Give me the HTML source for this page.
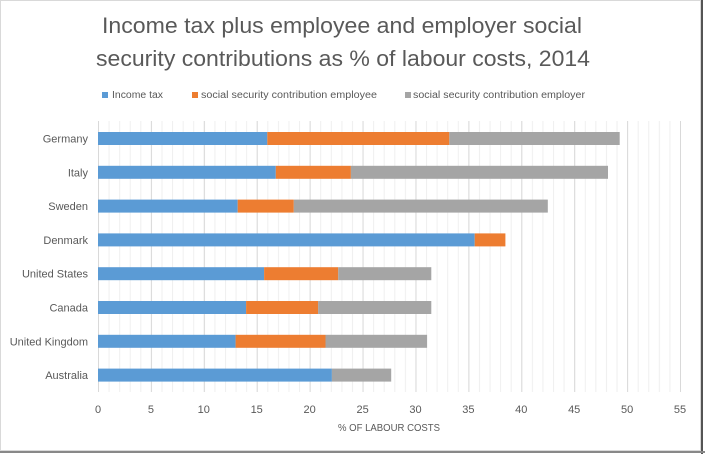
<!DOCTYPE html>
<html><head><meta charset="utf-8"><style>
html,body{margin:0;padding:0;background:#fff}
svg{display:block}
text{font-family:"Liberation Sans",sans-serif;fill:#595959}
</style></head><body>
<svg width="705" height="454" viewBox="0 0 705 454" xmlns="http://www.w3.org/2000/svg">
<defs>
<pattern id="minor" x="98" y="0" width="10.582" height="10" patternUnits="userSpaceOnUse"><rect x="0" y="0" width="1" height="10" fill="#efefef"/></pattern>
<pattern id="major" x="98" y="0" width="52.91" height="10" patternUnits="userSpaceOnUse"><rect x="0" y="0" width="1" height="10" fill="#d9d9d9"/></pattern>
</defs>
<rect x="0" y="0" width="705" height="454" fill="#fff"/>
<rect x="0.5" y="0.5" width="700" height="450" fill="none" stroke="#d9d9d9"/>
<line x1="702" y1="0" x2="702" y2="454" stroke="#555" stroke-width="2"/>
<line x1="0" y1="452" x2="705" y2="452" stroke="#888" stroke-width="2"/>
<text x="342" y="33" font-size="22" text-anchor="middle" textLength="480" lengthAdjust="spacingAndGlyphs">Income tax plus employee and employer social</text>
<text x="343" y="66" font-size="22" text-anchor="middle" textLength="494" lengthAdjust="spacingAndGlyphs">security contributions as % of labour costs, 2014</text>
<rect x="102" y="92" width="6" height="6" fill="#5b9bd5"/>
<text x="112" y="98" font-size="10" textLength="51" lengthAdjust="spacingAndGlyphs">Income tax</text>
<rect x="192" y="92" width="6" height="6" fill="#ed7d31"/>
<text x="201" y="98" font-size="10" textLength="176" lengthAdjust="spacingAndGlyphs">social security contribution employee</text>
<rect x="405" y="92" width="6" height="6" fill="#a5a5a5"/>
<text x="413" y="98" font-size="10" textLength="172" lengthAdjust="spacingAndGlyphs">social security contribution employer</text>

<rect x="98" y="121" width="583" height="271" fill="url(#minor)"/>
<rect x="98" y="121" width="583" height="271" fill="url(#major)"/>

<g font-size="11" text-anchor="middle">
<text x="98" y="413">0</text><text x="150.9" y="413">5</text><text x="203.8" y="413">10</text><text x="256.7" y="413">15</text><text x="309.6" y="413">20</text><text x="362.6" y="413">25</text><text x="415.5" y="413">30</text><text x="468.4" y="413">35</text><text x="521.3" y="413">40</text><text x="574.2" y="413">45</text><text x="627.1" y="413">50</text><text x="680" y="413">55</text>
</g>
<text x="389" y="431" font-size="10" text-anchor="middle" textLength="102" lengthAdjust="spacingAndGlyphs">% OF LABOUR COSTS</text>

<g>
<rect x="98" y="132" width="169.3" height="13" fill="#5b9bd5"/><rect x="267.3" y="132" width="182" height="13" fill="#ed7d31"/><rect x="449.3" y="132" width="170.4" height="13" fill="#a5a5a5"/>
<rect x="98" y="165.8" width="177.8" height="13" fill="#5b9bd5"/><rect x="275.8" y="165.8" width="75.1" height="13" fill="#ed7d31"/><rect x="350.9" y="165.8" width="257.1" height="13" fill="#a5a5a5"/>
<rect x="98" y="199.6" width="139.7" height="13" fill="#5b9bd5"/><rect x="237.7" y="199.6" width="56.1" height="13" fill="#ed7d31"/><rect x="293.8" y="199.6" width="254" height="13" fill="#a5a5a5"/>
<rect x="98" y="233.4" width="376.7" height="13" fill="#5b9bd5"/><rect x="474.7" y="233.4" width="30.7" height="13" fill="#ed7d31"/>
<rect x="98" y="267.2" width="166.1" height="13" fill="#5b9bd5"/><rect x="264.1" y="267.2" width="74.1" height="13" fill="#ed7d31"/><rect x="338.2" y="267.2" width="93.1" height="13" fill="#a5a5a5"/>
<rect x="98" y="301" width="148.1" height="13" fill="#5b9bd5"/><rect x="246.1" y="301" width="72" height="13" fill="#ed7d31"/><rect x="318.1" y="301" width="113.2" height="13" fill="#a5a5a5"/>
<rect x="98" y="334.8" width="137.6" height="13" fill="#5b9bd5"/><rect x="235.6" y="334.8" width="89.9" height="13" fill="#ed7d31"/><rect x="325.5" y="334.8" width="101.6" height="13" fill="#a5a5a5"/>
<rect x="98" y="368.6" width="233.9" height="13" fill="#5b9bd5"/><rect x="331.9" y="368.6" width="59.3" height="13" fill="#a5a5a5"/>
</g>

<g font-size="11" text-anchor="end">
<text x="88" y="142.5">Germany</text>
<text x="88" y="176.3">Italy</text>
<text x="88" y="210.1">Sweden</text>
<text x="88" y="243.9">Denmark</text>
<text x="88" y="277.7">United States</text>
<text x="88" y="311.5">Canada</text>
<text x="88" y="345.3">United Kingdom</text>
<text x="88" y="379.1">Australia</text>
</g>
</svg>
</body></html>
